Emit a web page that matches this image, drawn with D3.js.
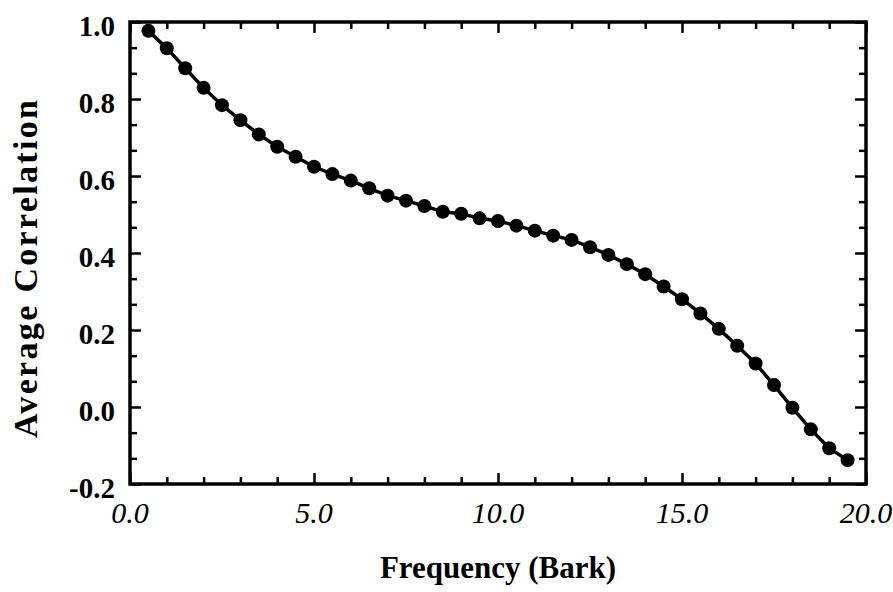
<!DOCTYPE html>
<html>
<head>
<meta charset="utf-8">
<script src="https://cdn.jsdelivr.net/npm/d3@7/dist/d3.min.js"></script>
<style>
html,body{margin:0;padding:0;background:#fff;}
svg{display:block;}
.domain{display:none;}
</style>
</head>
<body>
<svg id="chart" width="893" height="592"></svg>
<script>
// ---- data ----
const frequency = [0.5,1.0,1.5,2.0,2.5,3.0,3.5,4.0,4.5,5.0,5.5,6.0,6.5,7.0,7.5,8.0,8.5,9.0,9.5,10.0,
  10.5,11.0,11.5,12.0,12.5,13.0,13.5,14.0,14.5,15.0,15.5,16.0,16.5,17.0,17.5,18.0,18.5,19.0,19.5];
const correlation = [0.977,0.932,0.880,0.829,0.784,0.745,0.708,0.676,0.650,0.624,0.605,0.588,0.568,0.549,0.536,
  0.522,0.507,0.502,0.490,0.483,0.471,0.458,0.445,0.434,0.415,0.395,0.371,0.345,0.313,0.280,0.243,0.203,
  0.159,0.113,0.057,-0.002,-0.058,-0.107,-0.138];
const xMajorTicks = [0,5,10,15,20];
const xTickLabels = ["0.0","5.0","10.0","15.0","20.0"];
const xMinorTicks = [1,2,3,4,6,7,8,9,11,12,13,14,16,17,18,19];
const yMajorTicks = [-0.2,0.0,0.2,0.4,0.6,0.8,1.0];
const yTickLabels = ["-0.2","0.0","0.2","0.4","0.6","0.8","1.0"];
const yMinorTicks = [-0.2+0.2/3,-0.2+0.4/3,0.2/3,0.4/3,0.2+0.2/3,0.2+0.4/3,0.4+0.2/3,0.4+0.4/3,
  0.6+0.2/3,0.6+0.4/3,0.8+0.2/3,0.8+0.4/3];
const xTitle = "Frequency (Bark)";
const yTitle = "Average  Correlation";

// ---- layout ----
const L = 130, R = 866, T = 22, B = 484;
const svg = d3.select("#chart");
const x = d3.scaleLinear().domain([0,20]).range([L,R]);
const y = d3.scaleLinear().domain([-0.2,1.0]).range([B,T]);
const font = "'Liberation Serif','Times New Roman',serif";

function styleTicks(g){ g.selectAll(".tick line").attr("stroke","#000").attr("stroke-width",2.5); g.selectAll(".domain").remove(); }

// bottom
svg.append("g").attr("transform",`translate(0,${B})`)
  .call(d3.axisBottom(x).tickValues(xMajorTicks).tickSize(-11).tickFormat(""))
  .call(styleTicks);
svg.append("g").attr("transform",`translate(0,${B})`)
  .call(d3.axisBottom(x).tickValues(xMinorTicks).tickSize(-7).tickFormat(""))
  .call(styleTicks);
// top
svg.append("g").attr("transform",`translate(0,${T})`)
  .call(d3.axisTop(x).tickValues(xMajorTicks).tickSize(-11).tickFormat(""))
  .call(styleTicks);
svg.append("g").attr("transform",`translate(0,${T})`)
  .call(d3.axisTop(x).tickValues(xMinorTicks).tickSize(-7).tickFormat(""))
  .call(styleTicks);
// left
svg.append("g").attr("transform",`translate(${L},0)`)
  .call(d3.axisLeft(y).tickValues(yMajorTicks).tickSize(-11).tickFormat(""))
  .call(styleTicks);
svg.append("g").attr("transform",`translate(${L},0)`)
  .call(d3.axisLeft(y).tickValues(yMinorTicks).tickSize(-7).tickFormat(""))
  .call(styleTicks);
// right
svg.append("g").attr("transform",`translate(${R},0)`)
  .call(d3.axisRight(y).tickValues(yMajorTicks).tickSize(-11).tickFormat(""))
  .call(styleTicks);
svg.append("g").attr("transform",`translate(${R},0)`)
  .call(d3.axisRight(y).tickValues(yMinorTicks).tickSize(-7).tickFormat(""))
  .call(styleTicks);

// frame
svg.append("rect").attr("x",L).attr("y",T).attr("width",R-L).attr("height",B-T)
  .attr("fill","none").attr("stroke","#000").attr("stroke-width",3.5);

// tick labels
svg.append("g").selectAll("text").data(xMajorTicks).join("text")
  .attr("x",d=>x(d)).attr("y",523)
  .attr("text-anchor","middle").attr("font-family",font).attr("font-style","italic")
  .attr("font-size",30).attr("fill","#000")
  .text((d,i)=>xTickLabels[i]);
svg.append("g").selectAll("text").data(yMajorTicks).join("text")
  .attr("x",115).attr("y",d=>y(d)+14)
  .attr("text-anchor","end").attr("font-family",font).attr("font-weight","bold")
  .attr("font-size",29).attr("fill","#000")
  .text((d,i)=>yTickLabels[i]);

// titles
svg.append("text").attr("x",(L+R)/2).attr("y",578)
  .attr("text-anchor","middle").attr("font-family",font).attr("font-weight","bold")
  .attr("font-size",31).attr("fill","#000").text(xTitle);
svg.append("text").attr("transform","translate(37,269) rotate(-90)")
  .attr("text-anchor","middle").attr("font-family",font).attr("font-weight","bold")
  .attr("font-size",34).attr("fill","#000")
  .attr("textLength",338).attr("lengthAdjust","spacing")
  .text(yTitle);

// line + markers
const pts = frequency.map((f,i)=>[f,correlation[i]]);
svg.append("path").datum(pts)
  .attr("d",d3.line().x(d=>x(d[0])).y(d=>y(d[1])))
  .attr("fill","none").attr("stroke","#000").attr("stroke-width",3.5);
svg.append("g").selectAll("circle").data(pts).join("circle")
  .attr("cx",d=>x(d[0])).attr("cy",d=>y(d[1])).attr("r",7).attr("fill","#000");
</script>
</body>
</html>
